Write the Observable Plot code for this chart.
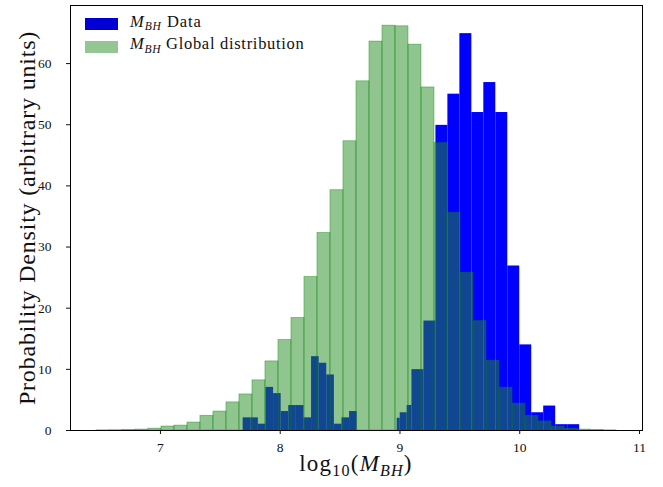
<!DOCTYPE html>
<html>
<head>
<meta charset="utf-8">
<script src="https://cdn.jsdelivr.net/npm/d3@7"></script>
<script src="https://cdn.jsdelivr.net/npm/@observablehq/plot@0.6"></script>
<style>
  html, body { margin: 0; padding: 0; background: white; }
  #wrap { position: relative; width: 663px; height: 487px; font-family: "Liberation Serif", serif; color: #111; }
  .ov { position: absolute; white-space: nowrap; }
  .sub { font-size: 0.7em; position: relative; top: 0.28em; line-height: 0; }
  .patch { position: absolute; width: 33px; height: 12px; }
</style>
</head>
<body>
<div id="wrap"></div>
<script>
// Green: global distribution (40 bins)
const greenEdges = [6.4656, 6.5741, 6.6827, 6.7913, 6.8998, 7.0084, 7.1169, 7.2255, 7.3340, 7.4426,
  7.5512, 7.6597, 7.7683, 7.8768, 7.9854, 8.0940, 8.2025, 8.3111, 8.4196, 8.5282,
  8.6368, 8.7453, 8.8539, 8.9624, 9.0710, 9.1796, 9.2881, 9.3967, 9.5052, 9.6138,
  9.7224, 9.8309, 9.9395, 10.0480, 10.1566, 10.2652, 10.3737, 10.4823, 10.5908, 10.6994, 10.8079];
const greenValues = [0.03, 0.05, 0.1, 0.15, 0.3, 0.65, 0.8, 1.3, 2.4, 3.1,
  4.6, 5.9, 8.2, 11.3, 14.8, 18.4, 25.1, 32.3, 39.3, 47.3,
  57.1, 63.6, 66.2, 66.1, 63.1, 56.1, 47.0, 35.6, 25.8, 17.9,
  11.4, 7.0, 4.4, 2.4, 1.5, 0.65, 0.3, 0.15, 0.1, 0.03];

// Blue: data (low-mass group)
const blueLowEdges = [7.6906, 7.7541, 7.8175, 7.8810, 7.9445, 8.0079, 8.0714, 8.1349, 8.1983,
  8.2618, 8.3253, 8.3887, 8.4522, 8.5157, 8.5791, 8.6426];
const blueLowValues = [2.07, 2.07, 1.03, 7.05, 6.03, 3.1, 4.08, 4.08, 2.07, 12.07, 11.0, 9.08, 1.03, 2.07, 3.1];

// Blue: data (high-mass group)
const blueHighEdges = [8.977, 9.002, 9.060, 9.1, 9.2, 9.3, 9.4, 9.5, 9.6, 9.7, 9.8, 9.9, 10.0, 10.1, 10.2, 10.3, 10.4, 10.5];
const blueHighValues = [2.0, 2.9, 4.1, 9.95, 17.9, 49.9, 55.0, 64.9, 52.0, 56.9, 52.0, 26.9, 14.0, 2.9, 4.0, 0.95, 0.95];

const xTicks = [7, 8, 9, 10, 11];
const yTicks = [0, 10, 20, 30, 40, 50, 60];

const toBins = (edges, values) => values.map((v, i) => ({x1: edges[i], x2: edges[i + 1], y: v}));
const greenBins = toBins(greenEdges, greenValues);
const blueBins = toBins(blueLowEdges, blueLowValues).concat(toBins(blueHighEdges, blueHighValues));

const chart = Plot.plot({
  width: 663,
  height: 487,
  marginLeft: 70,
  marginRight: 21,
  marginTop: 5,
  marginBottom: 57,
  style: { fontFamily: "Liberation Serif, serif", fontSize: "13.5px", color: "#111", background: "white" },
  x: { domain: [6.249, 11.025] },
  y: { domain: [0, 69.5] },
  marks: [
    Plot.rectY(blueBins, { x1: "x1", x2: "x2", y: "y", fill: "blue" }),
    Plot.rectY(greenBins, { x1: "x1", x2: "x2", y: "y", fill: "forestgreen", fillOpacity: 0.5,
      stroke: "green", strokeOpacity: 0.45, strokeWidth: 0.8 }),
    Plot.axisX({ ticks: xTicks, tickSize: 4, tickPadding: 8, label: null, tickFormat: d => String(d), fontSize: 13.5 }),
    Plot.axisY({ ticks: yTicks, tickSize: 4, tickPadding: 15, label: null, tickFormat: d => String(d), fontSize: 13.5 }),
    Plot.frame({ stroke: "black", strokeWidth: 1 })
  ]
});

const wrap = document.getElementById("wrap");
wrap.appendChild(chart);

function addDiv(html, css, cls = "ov") {
  const d = document.createElement("div");
  d.className = cls;
  d.innerHTML = html;
  Object.assign(d.style, css);
  wrap.appendChild(d);
  return d;
}

// Legend
addDiv("", { left: "85px", top: "18px", background: "#0000d4" }, "patch");
addDiv("", { left: "85px", top: "41px", background: "rgb(147,198,147)" }, "patch");
addDiv('<i>M</i><span class="sub"><i>BH</i></span> Data',
  { left: "130px", top: "11.7px", fontSize: "16.5px", lineHeight: "20px", letterSpacing: "0.9px" });
addDiv('<i>M</i><span class="sub"><i>BH</i></span> Global distribution',
  { left: "130px", top: "34.4px", fontSize: "16.5px", lineHeight: "20px", letterSpacing: "0.7px" });

// X axis label
addDiv('log<span class="sub">10</span>(<i>M</i><span class="sub"><i>BH</i></span>)',
  { left: "206px", width: "300px", textAlign: "center", top: "451px", fontSize: "23px", lineHeight: "26px", letterSpacing: "1.2px" });

// Y axis label
addDiv('Probability Density (arbitrary units)',
  { left: "27px", top: "217.5px", fontSize: "24px", lineHeight: "26px", letterSpacing: "0.8px",
    transform: "translate(-50%, -50%) rotate(-90deg)" });
</script>
</body>
</html>
